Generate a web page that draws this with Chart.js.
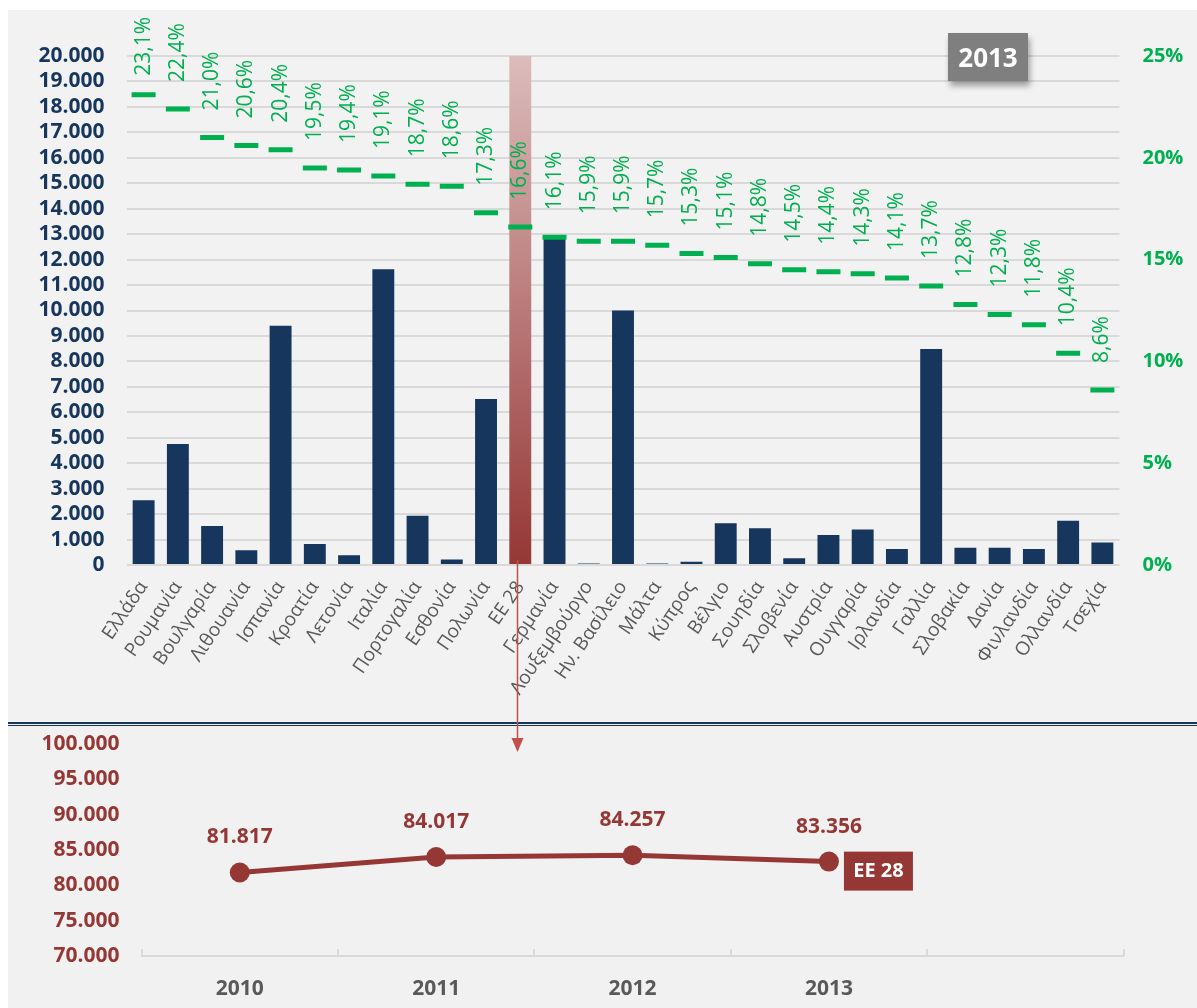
<!DOCTYPE html>
<html><head><meta charset="utf-8">
<script src="https://cdn.jsdelivr.net/npm/chart.js@4/dist/chart.umd.min.js"></script>
<style>
html,body{margin:0;padding:0;background:#fff;}
#page{position:relative;width:1197px;height:1008px;overflow:hidden;background:#fff;font-family:'Open Sans',sans-serif;}
#topBox{position:absolute;left:8px;top:10px;width:1189px;height:710px;background:#f2f2f2;}
#sep{position:absolute;left:8px;top:720px;width:1189px;height:7px;background:#f2f2f2;}
.l1{position:absolute;left:8px;top:722px;width:1189px;height:2px;background:#17365d;}
.l2{position:absolute;left:8px;top:725px;width:1189px;height:1px;background:#17365d;}
#botBox{position:absolute;left:8px;top:727px;width:1189px;height:281px;background:#f1f1f1;}
#badge{position:absolute;left:948px;top:33px;width:80px;height:48px;background:#7f7f7f;color:#fff;font:bold 26px 'Open Sans';display:flex;align-items:center;justify-content:center;box-shadow:2px 5px 6px rgba(0,0,0,0.35);}
canvas{display:block;}
#overlay{position:absolute;left:0;top:0;pointer-events:none;}
</style></head>
<body>
<div id="page">
  <div id="topBox"><canvas id="top" width="1189" height="710"></canvas></div>
  <div id="sep"></div><div class="l1"></div><div class="l2"></div>
  <div id="botBox"><canvas id="bot" width="1189" height="281"></canvas></div>
  <div id="badge">2013</div>
  <canvas id="overlay" width="1197" height="1008"></canvas>
</div>
<script>
const categories = ['Ελλάδα','Ρουμανία','Βουλγαρία','Λιθουανία','Ισπανία','Κροατία','Λετονία','Ιταλία','Πορτογαλία','Εσθονία','Πολωνία','ΕΕ 28','Γερμανία','Λουξεμβούργο','Ην. Βασίλειο','Μάλτα','Κύπρος','Βέλγιο','Σουηδία','Σλοβενία','Αυστρία','Ουγγαρία','Ιρλανδία','Γαλλία','Σλοβακία','Δανία','Φινλανδία','Ολλανδία','Τσεχία'];
const barValues = [2540,4750,1530,580,9400,830,380,11620,1940,220,6520,83356,12870,60,10000,60,130,1640,1440,270,1180,1390,630,8490,680,680,630,1740,880];
const rateValues = [23.1,22.4,21.0,20.6,20.4,19.5,19.4,19.1,18.7,18.6,17.3,16.6,16.1,15.9,15.9,15.7,15.3,15.1,14.8,14.5,14.4,14.3,14.1,13.7,12.8,12.3,11.8,10.4,8.6];
const years = ['2010','2011','2012','2013',''];
const euValues = [81817,84017,84257,83356,null];
const highlightIndex = 11;
const highlightLabel = 'ΕΕ 28';

const fmt = n => String(n).replace(/\B(?=(\d{3})+(?!\d))/g,'.');
const pct = v => v.toFixed(1).replace('.',',') + '%';

const rateLabelPlugin = {
  id:'rateLabels',
  afterDatasetsDraw(chart){
    const meta = chart.getDatasetMeta(0);
    const ctx = chart.ctx;
    ctx.save();
    ctx.font = '21px "Open Sans"';
    ctx.fillStyle = '#00b050';
    ctx.textAlign = 'left'; ctx.textBaseline = 'middle';
    meta.data.forEach((pt,i)=>{
      const txt = pct(rateValues[i]);
      const w = ctx.measureText(txt).width;
      let start = pt.y - 27;
      if (start - w < 7) start = 7 + w;
      ctx.save(); ctx.translate(pt.x, start); ctx.rotate(-Math.PI/2); ctx.fillText(txt,0,0); ctx.restore();
    });
    ctx.restore();
  }
};

function hlGradient(chart){
  const a = chart.chartArea;
  if(!a) return '#953735';
  const g = chart.ctx.createLinearGradient(0,a.top,0,a.bottom);
  g.addColorStop(0,'#dcbcbc');
  g.addColorStop(1,'#953735');
  return g;
}

const topChart = new Chart(document.getElementById('top'), {
  type:'bar',
  data:{
    labels: categories,
    datasets:[
      {type:'line', data: rateValues, yAxisID:'y1', showLine:false, pointStyle:'line', pointRadius:12, pointHoverRadius:12,
       pointBorderWidth:5, pointBorderColor:'#00b050', borderColor:'#00b050', backgroundColor:'#00b050', order:0},
      {type:'bar', data: barValues, yAxisID:'y', order:1, borderWidth:0,
       backgroundColor: c => c.dataIndex===highlightIndex ? hlGradient(c.chart) : '#17365d',
       barPercentage:0.64, categoryPercentage:1}
    ]
  },
  options:{
    responsive:false, animation:false, events:[],
    layout:{padding:{top:46,left:0,right:0,bottom:0}},
    plugins:{legend:{display:false}, tooltip:{enabled:false}},
    scales:{
      x:{grid:{display:false}, border:{display:false},
         ticks:{autoSkip:false, maxRotation:56, minRotation:56, color:'#595959', font:{family:'Open Sans', size:19}, padding:4},
         afterFit:s=>{s.height=155;}},
      y:{position:'left', min:0, max:20000,
         ticks:{autoSkip:false, stepSize:1000, color:'#17365d', font:{family:'Open Sans', size:21, weight:'bold'}, padding:22, callback:v=>fmt(v)},
         grid:{color:'#d9d9d9', lineWidth:2, drawTicks:false}, border:{display:false},
         afterFit:s=>{s.width=118.5; s.paddingTop=0; s.paddingBottom=0;}},
      y1:{position:'right', min:0, max:25,
         ticks:{autoSkip:false, stepSize:5, color:'#00b050', font:{family:'Open Sans', size:20, weight:'bold'}, padding:23, callback:v=>v+'%'},
         grid:{display:false, drawTicks:false}, border:{display:false},
         afterFit:s=>{s.width=77.5; s.paddingTop=0; s.paddingBottom=0;}}
    }
  },
  plugins:[rateLabelPlugin]
});

const bottomPlugin = {
  id:'botLabels',
  afterDatasetsDraw(chart){
    const ctx = chart.ctx;
    const meta = chart.getDatasetMeta(0);
    const area = chart.chartArea;
    const xs = chart.scales.x;
    ctx.save();
    ctx.strokeStyle = '#d9d9d9'; ctx.lineWidth = 2;
    const n = years.length;
    for(let i=0;i<=n;i++){
      const bx = Math.round(area.left + i*(area.width/n));
      ctx.beginPath(); ctx.moveTo(bx, xs.top); ctx.lineTo(bx, xs.top-7); ctx.stroke();
    }
    ctx.font = 'bold 21px "Open Sans"';
    ctx.textAlign='center'; ctx.textBaseline='middle';
    let last = -1;
    meta.data.forEach((pt,i)=>{
      if(euValues[i]==null) return;
      last = i;
      ctx.fillStyle = '#953735';
      ctx.fillText(fmt(euValues[i]), pt.x, pt.y-35);
    });
    if(last>=0){
      const pt = meta.data[last];
      const bx = pt.x + 15, by = pt.y - 10;
      ctx.fillStyle = '#953735';
      ctx.fillRect(bx, by, 69, 39);
      ctx.fillStyle = '#ffffff';
      ctx.font = 'bold 20px "Open Sans"';
      ctx.fillText(highlightLabel, bx+34.5, by+20);
    }
    ctx.restore();
  }
};

const botChart = new Chart(document.getElementById('bot'), {
  type:'line',
  data:{labels: years, datasets:[{data: euValues, borderColor:'#953735', backgroundColor:'#953735', borderWidth:5,
    pointRadius:10, pointHoverRadius:10, pointBackgroundColor:'#953735', pointBorderWidth:0, tension:0}]},
  options:{
    responsive:false, animation:false, events:[],
    layout:{padding:{top:17, right:73.5, left:0, bottom:0}},
    plugins:{legend:{display:false}, tooltip:{enabled:false}},
    scales:{
      x:{offset:true, grid:{display:true, drawOnChartArea:false, drawTicks:false, color:'rgba(0,0,0,0)'},
         border:{display:true, color:'#d9d9d9', width:2},
         ticks:{color:'#595959', font:{family:'Open Sans', size:21, weight:'bold'}, padding:20},
         afterFit:s=>{s.height=52; s.paddingLeft=0; s.paddingRight=0;}},
      y:{min:70000, max:100000,
         ticks:{autoSkip:false, stepSize:5000, color:'#953735', font:{family:'Open Sans', size:21, weight:'bold'}, padding:22, callback:v=>fmt(v)},
         grid:{display:false, drawTicks:false}, border:{display:false},
         afterFit:s=>{s.width=133.6; s.paddingTop=0; s.paddingBottom=0;}}
    }
  },
  plugins:[bottomPlugin]
});

(function(){
  const ov = document.getElementById('overlay');
  const c = ov.getContext('2d');
  const ax = Math.round(8 + topChart.scales.x.getPixelForValue(highlightIndex) - 3) + 0.5;
  const y0 = 10 + topChart.chartArea.bottom - 5;
  const tip = 727 + botChart.chartArea.top + 8;
  c.strokeStyle = '#c0504d'; c.lineWidth = 1.5;
  c.beginPath(); c.moveTo(ax, y0); c.lineTo(ax, tip-12); c.stroke();
  c.fillStyle = '#c0504d';
  c.beginPath(); c.moveTo(ax-6, tip-14); c.lineTo(ax+6, tip-14); c.lineTo(ax, tip); c.closePath(); c.fill();
})();
</script>
</body></html>
